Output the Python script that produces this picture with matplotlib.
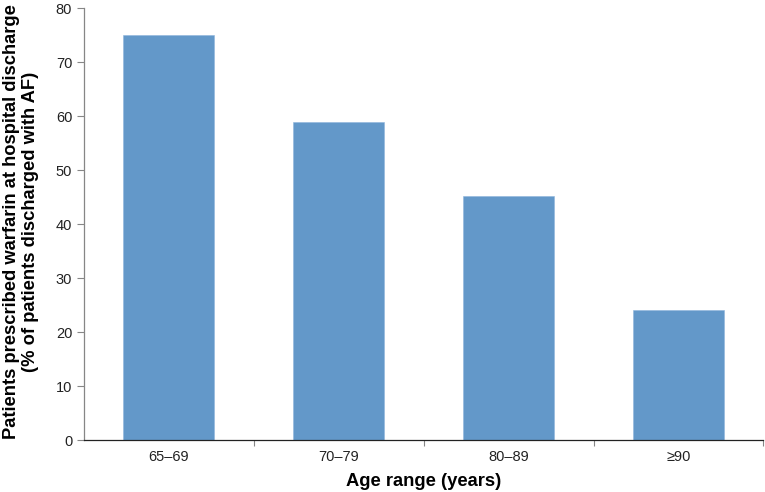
import matplotlib
matplotlib.use("Agg")
import matplotlib.pyplot as plt
import numpy as np

plt.rcParams['font.family'] = ['Liberation Sans', 'DejaVu Sans']

# Share of AF patients given warfarin at discharge, by age band
age_groups = ["65\u201369", "70\u201379", "80\u201389", "\u226590"]
warfarin_pct = [75.0, 58.9, 45.2, 24.1]
y_ticks = [0, 10, 20, 30, 40, 50, 60, 70, 80]

fig = plt.figure(figsize=(7.65, 4.92), dpi=100)
ax = fig.add_axes([84 / 765, 1 - 440 / 492, 681 / 765 - 0.002, 432 / 492])

x = np.arange(len(age_groups))
ax.bar(x, warfarin_pct, width=0.535, color="#6398C9", edgecolor="#8fb5dc", linewidth=0.4)

ax.set_xlim(-0.5, len(age_groups) - 0.5)
ax.set_ylim(0, 80)
ax.set_yticks(y_ticks)
ax.tick_params(axis="y", direction="out", length=5, width=0.8, color="#868686",
               labelsize=10.5, pad=3.5, labelcolor="#222222")

# labels in the middle of each category, tick marks on the boundaries
ax.set_xticks(x)
ax.set_xticklabels(age_groups)
ax.set_xticks(list(x[:-1] + 0.5) + [len(age_groups) - 0.5], minor=True)
ax.tick_params(axis="x", which="major", length=0, labelsize=10.5, pad=7.5, labelcolor="#222222")
ax.tick_params(axis="x", which="minor", direction="out", length=4, width=0.8, color="#868686")

for side in ["top", "right"]:
    ax.spines[side].set_visible(False)
ax.spines["left"].set_color("#868686")
ax.spines["left"].set_linewidth(0.9)
ax.spines["bottom"].set_color("#222222")
ax.spines["bottom"].set_linewidth(0.9)

ax.set_xlabel("Age range (years)", fontsize=13.2, fontweight="bold", labelpad=6)
fig.text(21 / 765, 1 - 222 / 492,
         "Patients prescribed warfarin at hospital discharge\n(% of patients discharged with AF)",
         rotation=90, ha="center", va="center", multialignment="center",
         fontsize=13.2, fontweight="bold", linespacing=1.2)

fig.savefig("out.png", dpi=100)
